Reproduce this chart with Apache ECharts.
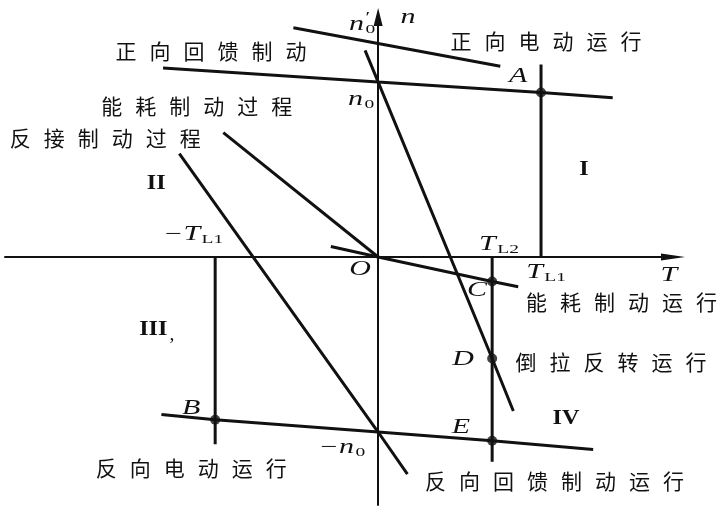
<!DOCTYPE html>
<html><head><meta charset="utf-8">
<script src="https://cdn.jsdelivr.net/npm/echarts@6/dist/echarts.min.js"></script>
<style>html,body{margin:0;padding:0;background:#fff}#c{width:723px;height:519px}</style>
</head><body><div id="c"></div>
<script>
// T in units of T_L1, n in units of n0
const forwardMotoring = [[-1.32, 1.08], [0, 1.0], [1.0, 0.94], [1.44, 0.91]];
const forwardRegenLine = [[-0.52, 1.31], [0, 1.22], [0.75, 1.09]];
const reverseDragLine = [[-0.08, 1.18], [0, 1.0], [0.7, -0.58], [0.83, -0.88]];
const dynamicProcess = [[-0.95, 0.71], [0, 0]];
const dynamicRun = [[-0.29, 0.06], [0, 0], [0.7, -0.14], [0.86, -0.17]];
const pluggingLine = [[-1.22, 0.59], [0, -1.0], [0.18, -1.24]];
const reverseMotoring = [[-1.33, -0.9], [-1.0, -0.93], [0, -1.0], [0.7, -1.05], [1.32, -1.1]];
const loadTL1 = [[1.0, 1.1], [1.0, 0]];
const loadNegTL1 = [[-1.0, 0], [-1.0, -1.07]];
const loadTL2 = [[0.7, 0], [0.7, -1.17]];
const operatingPoints = [[1.0, 0.94], [-1.0, -0.93], [0.7, -0.14], [0.7, -0.58], [0.7, -1.05]];

const cjkTexts = ['正向回馈制动', '正向电动运行', '能耗制动过程', '反接制动过程', '能耗制动运行', '倒拉反转运行', '反向电动运行', '反向回馈制动运行'];
const cjkAnchors = [[-1.025, 1.177], [1.031, 1.234], [-1.113, 0.863], [-1.675, 0.677], [1.494, -0.26], [1.429, -0.6], [-1.147, -1.206], [1.083, -1.28]];

const mathMain = ['n', 'n', 'n', 'A', '\u2212T', 'O', 'T', 'T', 'T', 'C', 'D', 'E', 'B', '\u2212n'];
const mathSub  = ['', '0', '0', '', 'L1', '', 'L2', 'L1', '', '', '', '', '', '0'];
const mathSup  = ['', '\u2032', '', '', '', '', '', '', '', '', '', '', '', ''];
const mathAnchors = [[0.184, 1.366], [-0.098, 1.326], [-0.104, 0.897], [0.859, 1.029], [-1.135, 0.126], [-0.11, -0.074], [0.742, 0.069], [1.031, -0.091], [1.785, -0.109], [0.607, -0.194], [0.521, -0.589], [0.509, -0.974], [-1.147, -0.869], [-0.221, -1.091]];

const romanTexts = ['I', 'II', 'III', 'IV'];
const romanAnchors = [[1.264, 0.503], [-1.362, 0.423], [-1.38, -0.411], [1.153, -0.92]];

const INK = '#111';
const ctx = document.createElement('canvas').getContext('2d');
function tw(t, font) { ctx.font = font; return ctx.measureText(t).width; }

function cjkRender(params, api) {
  const p = api.coord([api.value(0), api.value(1)]);
  const t = cjkTexts[params.dataIndex];
  const n = t.length, pitch = 34;
  const children = [];
  for (let i = 0; i < n; i++) {
    children.push({type: 'text', x: (i - (n - 1) / 2) * pitch, y: 0,
      style: {text: t[i], fontSize: 21, fontFamily: 'Noto Sans CJK SC', fill: INK, align: 'center', verticalAlign: 'middle'}});
  }
  return {type: 'group', x: p[0], y: p[1], children};
}

const MAIN_FONT = 'italic 20px "Liberation Serif"';
const SUB_FONT = '13px "Liberation Serif"';
function mathRender(params, api) {
  const p = api.coord([api.value(0), api.value(1)]);
  const i = params.dataIndex;
  const m = mathMain[i], s = mathSub[i], u = mathSup[i];
  const w1 = tw(m, MAIN_FONT);
  const w2 = s ? tw(s, SUB_FONT) + 1 : 0;
  const x0 = -(w1 + w2) / 2;
  const children = [{type: 'text', x: x0, y: 0,
    style: {text: m, fontSize: 20, fontStyle: 'italic', fontFamily: 'Liberation Serif', fill: INK, align: 'left', verticalAlign: 'middle'}}];
  if (s) children.push({type: 'text', x: x0 + w1 + 1, y: 5,
    style: {text: s, fontSize: 13, fontFamily: 'Liberation Serif', fill: INK, align: 'left', verticalAlign: 'middle'}});
  if (u) children.push({type: 'text', x: x0 + w1 + 1, y: -7,
    style: {text: u, fontSize: 14, fontFamily: 'Liberation Serif', fill: INK, align: 'left', verticalAlign: 'middle'}});
  return {type: 'group', x: p[0], y: p[1], scaleX: 1.5, children};
}

function romanRender(params, api) {
  const p = api.coord([api.value(0), api.value(1)]);
  const t = romanTexts[params.dataIndex];
  const children = [{type: 'text', x: 0, y: 0,
    style: {text: t, fontSize: 22, fontWeight: 'bold', fontFamily: 'Liberation Serif', fill: INK, align: 'center', verticalAlign: 'middle'}}];
  if (t === 'III') children.push({type: 'text', x: 17, y: 6,
    style: {text: ',', fontSize: 18, fontFamily: 'Liberation Serif', fill: INK, align: 'center', verticalAlign: 'middle'}});
  return {type: 'group', x: p[0], y: p[1], scaleX: 1.1, children};
}

function curve(data) {
  return {type: 'line', data, symbol: 'none', silent: true, lineStyle: {color: INK, width: 3}, z: 3};
}

const chart = echarts.init(document.getElementById('c'), null, {renderer: 'canvas'});
chart.setOption({
  animation: false,
  backgroundColor: '#fff',
  grid: {left: 5, right: 50, top: 17, bottom: 14, containLabel: false},
  xAxis: {type: 'value', min: -2.29, max: 1.81,
    axisLine: {onZero: true, symbol: ['none', 'triangle'], symbolSize: [7, 24], lineStyle: {color: INK, width: 2}},
    axisTick: {show: false}, axisLabel: {show: false}, splitLine: {show: false}},
  yAxis: {type: 'value', min: -1.417, max: 1.371,
    axisLine: {onZero: true, symbol: ['none', 'triangle'], symbolSize: [9, 18], lineStyle: {color: INK, width: 2}},
    axisTick: {show: false}, axisLabel: {show: false}, splitLine: {show: false}},
  series: [
    curve(forwardMotoring), curve(forwardRegenLine), curve(reverseDragLine),
    curve(dynamicProcess), curve(dynamicRun), curve(pluggingLine), curve(reverseMotoring),
    curve(loadTL1), curve(loadNegTL1), curve(loadTL2),
    {type: 'scatter', data: operatingPoints, symbolSize: 10, itemStyle: {color: INK}, silent: true, z: 4},
    {type: 'custom', coordinateSystem: 'cartesian2d', data: cjkAnchors, renderItem: cjkRender, silent: true, z: 5},
    {type: 'custom', coordinateSystem: 'cartesian2d', data: mathAnchors, renderItem: mathRender, silent: true, z: 5},
    {type: 'custom', coordinateSystem: 'cartesian2d', data: romanAnchors, renderItem: romanRender, silent: true, z: 5}
  ]
});
</script></body></html>
